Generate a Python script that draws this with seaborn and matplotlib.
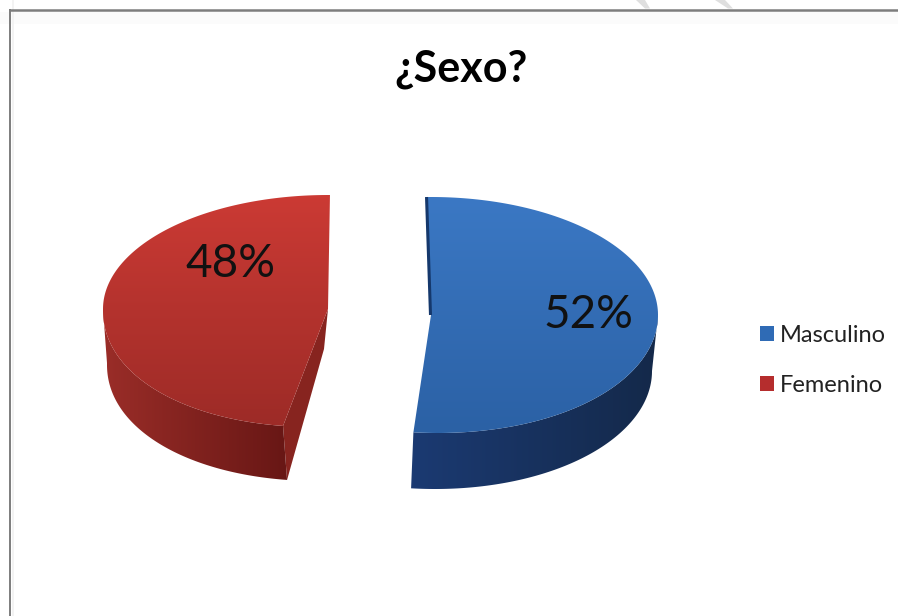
import numpy as np
import matplotlib
matplotlib.use("Agg")
import matplotlib.pyplot as plt
from matplotlib.colors import LinearSegmentedColormap
from matplotlib.patches import Patch, Polygon
import seaborn as sns

# Survey result
categories = ["Masculino", "Femenino"]
shares = [52, 48]
title = "¿Sexo?"

sns.set_theme(style="white")
plt.rcParams["font.family"] = ["Lato", "DejaVu Sans"]

W, H = 898, 616
fig = plt.figure(figsize=(W / 100, H / 100), dpi=100, facecolor="white")
ax = fig.add_axes([0, 0, 1, 1])
ax.set_axis_off()

DEPTH = 56


def arc(cx, cy, rx, ry_up, ry_down, a0, a1, bow=0.0, power=2.0, n=160):
    """Elliptical arc in pixel space; bow leans the front half sideways for perspective."""
    t = np.radians(np.linspace(a0, a1, n))
    s = np.sin(t)
    x = cx + rx * np.cos(t)
    y = cy - np.where(s > 0, ry_up, ry_down) * s
    front = np.clip(-s, 0, 1)
    x = x + bow * front ** power
    return np.column_stack([x, y])


def gradient_fill(poly_xy, c0, c1, horizontal=False, zorder=2):
    cmap = LinearSegmentedColormap.from_list("g", [c0, c1])
    x0, y0 = poly_xy.min(axis=0)
    x1, y1 = poly_xy.max(axis=0)
    ramp = np.linspace(0, 1, 64)
    img = ramp[None, :] if horizontal else ramp[:, None]
    im = ax.imshow(img, cmap=cmap, extent=[x0, x1, y1, y0], aspect="auto",
                   zorder=zorder, interpolation="bilinear")
    clip = Polygon(poly_xy, closed=True, transform=ax.transData, fc="none", ec="none")
    ax.add_patch(clip)
    im.set_clip_path(clip)


# Sweep angle of each slice
sweep = [s / sum(shares) * 360 for s in shares]

# Masculino slice: runs clockwise from the top
bc = (431, 315)
b_geom = dict(rx=227, ry_up=118, ry_down=118, bow=7.0)
b0, b1 = 91.0, 91.0 - sweep[0]
b_top = np.vstack([[bc], arc(*bc, a0=b0, a1=b1, **b_geom)])
b_front = arc(*bc, a0=b1, a1=0, **b_geom)
b_under = arc(bc[0], bc[1] + DEPTH, 221, 118, 118, b1, 0, bow=4.0)
b_wall = np.vstack([b_front, b_under[::-1]])
gradient_fill(b_wall, "#1b3a72", "#14294a", horizontal=True, zorder=2)
gradient_fill(b_top, "#3b78c4", "#2b61a5", zorder=3)
ax.plot([b_top[1, 0] - 0.5, bc[0] - 0.5], [b_top[1, 1], bc[1]], color="#15386c", lw=2.2,
        zorder=4, solid_capstyle="butt")

# Femenino slice: runs counter-clockwise from the top
rc = (328, 309)
r_geom = dict(rx=225, ry_up=114, ry_down=118, bow=-15.0, power=1.5)
r0, r1 = 89.5, 89.5 + sweep[1]
r_top = np.vstack([[rc], arc(*rc, a0=r0, a1=r1, **r_geom)])
r_front = arc(*rc, a0=180, a1=r1, **r_geom)
r_under = r_front + [4, DEPTH - 2]
r_wall = np.vstack([r_front, r_under[::-1]])
corner = r_front[-1]
r_cut = np.array([rc, corner, r_under[-1], [rc[0] - 4, rc[1] + 40]])
ax.add_patch(Polygon(r_cut, closed=True, fc="#87241f", ec="none", zorder=2))
gradient_fill(r_wall, "#9a2d28", "#681715", horizontal=True, zorder=2)
gradient_fill(r_top, "#cb3a34", "#9d2b27", zorder=3)

# Percentage labels
ax.text(230, 264, f"{shares[1]}%", fontsize=33, color="#111111", ha="center",
        va="center", zorder=5)
ax.text(588, 315, f"{shares[0]}%", fontsize=33, color="#111111", ha="center",
        va="center", zorder=5)

# Title
ax.text(461, 69, title, fontsize=31, fontweight="bold", color="black", ha="center",
        va="center", zorder=5)

# Chart frame along the top and left edges, with its soft inner shading
ax.axhspan(12, 24, color="#fbfbfb", lw=0, zorder=0)
ax.axvspan(12, 14, color="#f3f3f3", lw=0, zorder=0)
ax.plot([9, W], [10, 10], color="#7d7d7d", lw=1.8, zorder=1, solid_capstyle="butt")
ax.plot([9.5, 9.5], [9, H], color="#7d7d7d", lw=1.4, zorder=1, solid_capstyle="butt")

# Faint diagonal strokes above the frame
for stroke in ([[636, 0], [645, 0], [650, 8.5], [645, 8.5]],
               [[715, 0], [725, 0], [733, 8.5], [728, 8.5]]):
    ax.add_patch(Polygon(stroke, closed=True, fc="#dfdfdf", ec="none", zorder=1))

# Legend
handles = [Patch(facecolor="#2f6bb5", edgecolor="none"),
           Patch(facecolor="#b52d2d", edgecolor="none")]
ax.legend(handles, categories, loc="upper left", bbox_to_anchor=(760 / W, 1 - 325 / H),
          bbox_transform=fig.transFigure, frameon=False, fontsize=17, handlelength=0.6,
          handleheight=0.6, handletextpad=0.25, labelspacing=1.21, borderpad=0,
          borderaxespad=0, labelcolor="#222222")

ax.set_xlim(0, W)
ax.set_ylim(H, 0)
fig.savefig("out.png", dpi=100, facecolor="white")
